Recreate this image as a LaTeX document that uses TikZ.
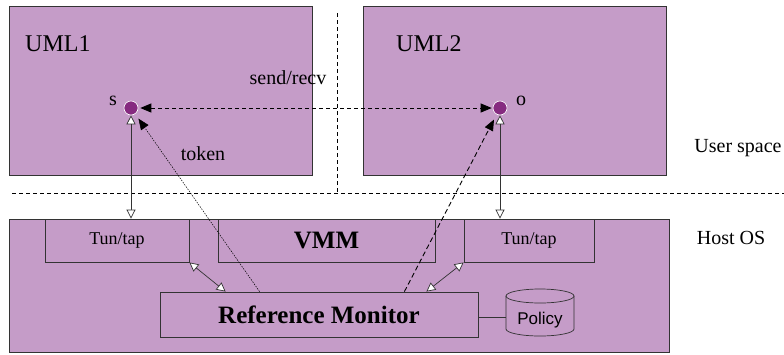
\documentclass[tikz,border=0pt]{standalone}
\usepackage{fontspec}
\setmainfont{Liberation Serif}
\newfontfamily\policyfont{Liberation Sans}
\usetikzlibrary{arrows.meta}
\definecolor{boxfill}{HTML}{C59CC8}
\definecolor{dotfill}{HTML}{862A80}
\definecolor{edge}{HTML}{333333}
\tikzset{
  box/.style={draw=edge, fill=boxfill, line width=0.8pt, inner sep=0pt},
  lbl/.style={inner sep=0pt, font=\fontsize{20}{24}\selectfont},
  dotnode/.style={circle, fill=dotfill, draw=white, line width=0.6pt, minimum size=14pt, inner sep=0pt},
  opentri/.style={{Triangle[open, fill=white, length=9pt, width=9pt]}-{Triangle[open, fill=white, length=9pt, width=9pt]}},
  divider/.style={draw=black, line width=0.8pt, dash pattern=on 4pt off 3pt},
  thinline/.style={draw=edge, line width=0.7pt}
}
\begin{document}
\begin{tikzpicture}[x=1pt, y=-1pt]
\useasboundingbox (0,0) rectangle (784,354);
% dividers
\draw[divider] (337,13) -- (337,193);
\draw[divider] (12,193) -- (784,193);
% user space boxes
\node[box, minimum width=303pt, minimum height=169pt] (uml1) at (160.5,90.5) {};
\node[box, minimum width=303pt, minimum height=169pt] (uml2) at (514.5,90.5) {};
\node[lbl, anchor=west, font=\fontsize{24}{28}\selectfont] (uml1l) at (25,44) {UML1};
\node[lbl, anchor=west, font=\fontsize{24}{28}\selectfont] (uml2l) at (396,44) {UML2};
% host box
\node[box, minimum width=660pt, minimum height=133pt] (host) at (339,285.5) {};
\node[box, minimum width=144pt, minimum height=43pt, font=\fontsize{18}{20}\selectfont] (tun1) at (117,240.5) {Tun/tap};
\node[box, minimum width=217pt, minimum height=43pt, font=\fontsize{25}{28}\selectfont\bfseries] (vmm) at (326.5,240.5) {VMM};
\node[box, minimum width=130pt, minimum height=43pt, font=\fontsize{18}{20}\selectfont] (tun2) at (529,240.5) {Tun/tap};
\node[box, minimum width=318pt, minimum height=45pt, font=\fontsize{25}{28}\selectfont\bfseries] (rm) at (319,314.5) {Reference Monitor};
% policy cylinder
\draw[draw=edge, fill=boxfill, line width=0.7pt] (506,296) -- (506,329) arc[start angle=180, end angle=360, x radius=34pt, y radius=7pt] -- (574,296);
\draw[draw=edge, fill=boxfill, line width=0.7pt] (540,296) ellipse[x radius=34pt, y radius=7pt];
\node[inner sep=0pt, font=\policyfont\fontsize{17}{20}\selectfont] (policy) at (540,320) {Policy};
\coordinate (pw) at (506,317);
\draw[thinline] (rm.east |- pw) -- (pw);
% labels
\node[lbl] (ulabel) at (738,148) {User space};
\node[lbl] (hlabel) at (731,238) {Host OS};
\node[lbl] (sr) at (288,78) {send/recv};
\node[lbl] (tok) at (203,154) {token};
% dots
\node[dotnode] (s) at (131,108) {};
\node[dotnode] (o) at (500,108) {};
\node[lbl] (sl) at (113,101) {s};
\node[lbl] (ol) at (521,101) {o};
% connectors
\draw[thinline, opentri] (s) -- (s |- tun1.north);
\draw[thinline, opentri] (o) -- (o |- tun2.north);
\draw[thinline, opentri] (tun1.south east) -- ([xshift=66pt]rm.north west);
\draw[thinline, opentri] (tun2.south west) -- ([xshift=-52pt]rm.north east);
\draw[black, line width=0.8pt, dash pattern=on 4pt off 3pt, {Triangle[length=11pt, width=9pt]}-{Triangle[length=11pt, width=9pt]}, shorten <=2pt, shorten >=1pt] (s) -- (o);
\draw[black, line width=0.5pt, dash pattern=on 1.5pt off 1.2pt, -{Triangle[length=11pt, width=9pt]}, shorten >=13pt] ([xshift=100pt]rm.north west) -- (s.center);
\draw[black, line width=0.9pt, dash pattern=on 5pt off 3pt, -{Triangle[length=11pt, width=9pt]}, shorten >=13pt] ([xshift=-74pt]rm.north east) -- (o.center);
\end{tikzpicture}
\end{document}
